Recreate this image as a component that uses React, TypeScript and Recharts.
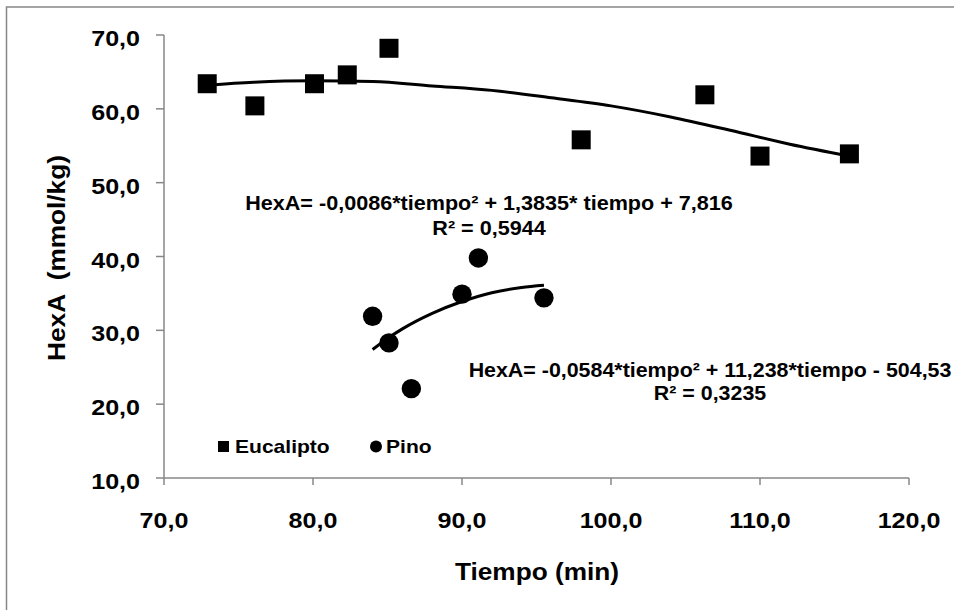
import React from 'react';
import { ComposedChart, Scatter, Line, XAxis, YAxis } from 'recharts';

const eucaliptoTiempo = [72.9, 76.1, 80.1, 82.3, 85.1, 98.0, 106.3, 110.0, 116.0];
const eucaliptoHexA = [63.4, 60.4, 63.4, 64.6, 68.2, 55.8, 61.9, 53.6, 53.9];
const pinoTiempo = [84.0, 85.1, 86.6, 90.0, 91.1, 95.5];
const pinoHexA = [31.9, 28.3, 22.1, 34.9, 39.8, 34.4];

// Trend lines
const trendEucTiempo = [72.9, 76, 80, 84, 88, 92, 96, 100, 104, 108, 112, 116];
const trendEucHexA = [63.2, 63.6, 63.8, 63.7, 63.1, 62.5, 61.5, 60.4, 58.9, 57.1, 55.2, 53.6];
const trendPinoTiempo = [84, 85, 86, 88, 90, 92, 94, 95.5];
const trendPinoHexA = [27.4, 28.9, 30.2, 32.3, 33.9, 35.1, 35.8, 36.1];

const xTicks = [70, 80, 90, 100, 110, 120];
const yTicks = [10, 20, 30, 40, 50, 60, 70];

const seriesNames = ['Eucalipto', 'Pino'];
const eqEucalipto = ['HexA= -0,0086*tiempo² + 1,3835* tiempo + 7,816', 'R² = 0,5944'];
const eqPino = ['HexA= -0,0584*tiempo² + 11,238*tiempo - 504,53', 'R² = 0,3235'];
const xTitle = 'Tiempo (min)';
const yTitle = 'HexA  (mmol/kg)';

const zip = (xs: number[], ys: number[]) => xs.map((x, i) => ({ x, y: ys[i] }));
const eucData = zip(eucaliptoTiempo, eucaliptoHexA);
const pinoData = zip(pinoTiempo, pinoHexA);
const eucTrend = zip(trendEucTiempo, trendEucHexA);
const pinoTrend = zip(trendPinoTiempo, trendPinoHexA);

const FONT = '"Liberation Sans", Arial, Helvetica, sans-serif';
const AXIS = '#878787';

const fmt = (v: number) => v.toFixed(1).replace('.', ',');

function SText(props: any) {
  const { x, y, anchor = 'middle', size, sx = 1.15, rotate = false, children } = props;
  const t = rotate
    ? `translate(${x},${y}) rotate(-90) scale(${sx},1)`
    : `translate(${x},${y}) scale(${sx},1)`;
  return (
    <text
      transform={t}
      textAnchor={anchor}
      fontFamily={FONT}
      fontWeight="bold"
      fontSize={size}
      fill="#000"
      style={{ whiteSpace: 'pre' }}
    >
      {children}
    </text>
  );
}

const YTick = (p: any) => (
  <SText x={p.x} y={p.y + 11} anchor="end" size={22} sx={1.14}>
    {fmt(p.payload.value)}
  </SText>
);
const XTick = (p: any) => (
  <SText x={p.x} y={p.y + 43} anchor="middle" size={22} sx={1.14}>
    {fmt(p.payload.value)}
  </SText>
);

const Square = (p: any) => (
  <rect x={p.cx - 9.5} y={p.cy - 9.5} width={19} height={19} fill="#000" />
);
const Dot = (p: any) => <circle cx={p.cx} cy={p.cy} r={9.7} fill="#000" />;

export default function App() {
  return (
    <div style={{ position: 'absolute', left: 0, top: 0, width: 954, height: 610, background: '#fff' }}>
      <ComposedChart
        width={954}
        height={610}
        margin={{ top: 35, right: 45, bottom: 72, left: 64 }}
      >
        <XAxis
          dataKey="x"
          type="number"
          domain={[70, 120]}
          ticks={xTicks}
          allowDataOverflow
          height={60}
          stroke={AXIS}
          strokeWidth={1.5}
          tickSize={7}
          tickMargin={0}
          tickLine={{ stroke: AXIS, strokeWidth: 1.5 }}
          tick={<XTick />}
        />
        <YAxis
          dataKey="y"
          type="number"
          domain={[10, 70]}
          ticks={yTicks}
          allowDataOverflow
          width={100}
          stroke={AXIS}
          strokeWidth={1.5}
          tickSize={8}
          tickMargin={16}
          tickLine={{ stroke: AXIS, strokeWidth: 1.5 }}
          tick={<YTick />}
        />
        <Line
          data={eucTrend}
          dataKey="y"
          type="monotone"
          stroke="#000"
          strokeWidth={3}
          dot={false}
          activeDot={false}
          isAnimationActive={false}
        />
        <Line
          data={pinoTrend}
          dataKey="y"
          type="monotone"
          stroke="#000"
          strokeWidth={3}
          dot={false}
          activeDot={false}
          isAnimationActive={false}
        />
        <Scatter name={seriesNames[0]} data={eucData} dataKey="y" shape={<Square />} isAnimationActive={false} />
        <Scatter name={seriesNames[1]} data={pinoData} dataKey="y" shape={<Dot />} isAnimationActive={false} />
      </ComposedChart>
      <svg
        width={954}
        height={610}
        style={{ position: 'absolute', left: 0, top: 0, pointerEvents: 'none' }}
      >
        <rect x={6.5} y={7} width={2000} height={2000} fill="none" stroke={AXIS} strokeWidth={1.5} />
        <SText x={489} y={210} size={20} sx={1.08}>{eqEucalipto[0]}</SText>
        <SText x={489} y={235} size={20} sx={1.08}>{eqEucalipto[1]}</SText>
        <SText x={710} y={377} size={20} sx={1.07}>{eqPino[0]}</SText>
        <SText x={710} y={400} size={20} sx={1.07}>{eqPino[1]}</SText>
        <SText x={537} y={580} size={23} sx={1.14}>{xTitle}</SText>
        <SText x={65} y={258} size={23} sx={1.14} rotate>{yTitle}</SText>
        <rect x={218} y={441} width={11} height={11} fill="#000" />
        <SText x={235} y={453} anchor="start" size={18} sx={1.17}>{seriesNames[0]}</SText>
        <circle cx={376} cy={446.5} r={6} fill="#000" />
        <SText x={386} y={453} anchor="start" size={18} sx={1.17}>{seriesNames[1]}</SText>
      </svg>
    </div>
  );
}
